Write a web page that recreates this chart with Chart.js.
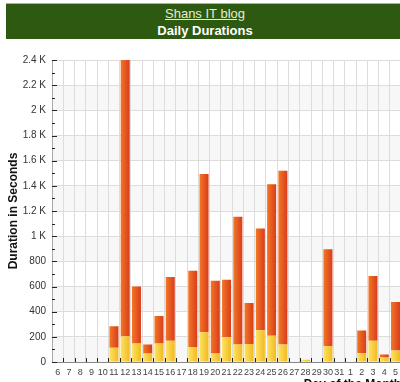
<!DOCTYPE html>
<html>
<head>
<meta charset="utf-8">
<script src="https://cdn.jsdelivr.net/npm/chart.js@4/dist/chart.umd.min.js"></script>
<style>
  html, body { margin: 0; padding: 0; background: #fff; overflow: hidden; width: 400px; height: 382px; }
  #head {
    position: absolute; left: 6px; top: 3px; width: 398px; height: 35px;
    background: #2d5a10; border-top: 1px solid #9cbf7c;
    font-family: "Liberation Sans", Arial, sans-serif; font-size: 13px; text-align: center; line-height: 17px;
  }
  #head .blog { color: #e4ecd6; text-decoration: underline; padding-top: 1px; }
  #head .name { color: #fff; font-weight: bold; }
  #wrap { position: absolute; left: 0; top: 40px; }
</style>
</head>
<body>
<div id="head"><div class="blog">Shans IT blog</div><div class="name">Daily Durations</div></div>
<div id="wrap"><canvas id="chart" width="403" height="362"></canvas></div>
<script>
const days = ["6", "7", "8", "9", "10", "11", "12", "13", "14", "15", "16", "17", "18", "19", "20",
  "21", "22", "23", "24", "25", "26", "27", "28", "29", "30", "31", "1", "2", "3", "4", "5"];

// lower (yellow) part of each bar, seconds
const yellowPart = [0, 0, 0, 0, 0, 114, 205, 147, 67, 147, 168, 0, 120, 237, 67,
  197, 139, 144, 253, 208, 139, 0, 18, 0, 125, 0, 0, 72, 168, 35, 91];

// upper (orange) part stacked on top, seconds
const orangePart = [0, 0, 0, 0, 0, 171, 2195, 453, 73, 218, 507, 0, 605, 1258, 578,
  456, 1016, 325, 807, 1205, 1381, 0, 0, 0, 771, 0, 0, 178, 515, 24, 386];

const yMax = 2400;
const yStep = 200;

const fontFamily = '"Liberation Sans", Arial, sans-serif';

function barFill(light, dark) {
  return (ctx) => {
    const chart = ctx.chart;
    const xs = chart.scales.x;
    if (!chart.chartArea || !xs) return dark;
    const cx = xs.getPixelForValue(ctx.dataIndex);
    const g = chart.ctx.createLinearGradient(cx - 5, 0, cx + 5, 0);
    g.addColorStop(0, light);
    g.addColorStop(1, dark);
    return g;
  };
}

// alternating grey bands behind the grid
const bands = {
  id: "bands",
  beforeDraw(chart) {
    const { ctx, chartArea, scales } = chart;
    ctx.save();
    ctx.fillStyle = "#f7f7f7";
    for (let v = 0; v < yMax; v += yStep * 2) {
      const y1 = scales.y.getPixelForValue(v);
      const y2 = scales.y.getPixelForValue(v + yStep);
      ctx.fillRect(chartArea.left, y2, chartArea.right - chartArea.left, y1 - y2);
    }
    ctx.restore();
  },
};

// small black ticks drawn inside the plot, like the original
const innerTicks = {
  id: "innerTicks",
  afterDatasetsDraw(chart) {
    const { ctx, chartArea, scales } = chart;
    ctx.save();
    ctx.strokeStyle = "#222";
    ctx.lineWidth = 1;
    ctx.beginPath();
    for (let v = 0; v <= yMax; v += yStep / 2) {
      const y = Math.round(scales.y.getPixelForValue(v)) + 0.5;
      const len = v % yStep === 0 ? 5 : 3;
      ctx.moveTo(chartArea.left, y);
      ctx.lineTo(chartArea.left + len, y);
    }
    for (let i = 1; i < days.length; i++) {
      const x = Math.round((scales.x.getPixelForValue(i - 1) + scales.x.getPixelForValue(i)) / 2) + 0.5;
      ctx.moveTo(x, chartArea.bottom);
      ctx.lineTo(x, chartArea.bottom - 4);
    }
    ctx.stroke();
    ctx.restore();
  },
};

new Chart(document.getElementById("chart"), {
  type: "bar",
  data: {
    labels: days,
    datasets: [
      {
        label: "lower",
        data: yellowPart,
        backgroundColor: barFill("#ffe466", "#f0b81c"),
        barPercentage: 0.8,
        categoryPercentage: 1,
      },
      {
        label: "upper",
        data: orangePart,
        backgroundColor: barFill("#f47a26", "#d8391a"),
        barPercentage: 0.8,
        categoryPercentage: 1,
      },
    ],
  },
  options: {
    responsive: false,
    animation: false,
    layout: { padding: { top: 20, left: 0, right: 0, bottom: 0 } },
    plugins: { legend: { display: false }, tooltip: { enabled: false } },
    scales: {
      x: {
        stacked: true,
        afterFit: (s) => { s.height = 40; },
        grid: { color: "#dcdcdc", offset: true, drawTicks: false },
        border: { color: "#888" },
        ticks: { color: "#444", padding: 5, autoSkip: false, maxRotation: 0, font: { family: fontFamily, size: 9 } },
        title: {
          display: true, text: "Day of the Month", align: "end", color: "#111",
          padding: { top: 0, bottom: 10 }, font: { family: fontFamily, size: 12, weight: "bold" },
        },
      },
      y: {
        stacked: true,
        min: 0,
        max: yMax,
        afterFit: (s) => { s.width = 52; },
        grid: { color: "#dcdcdc", drawTicks: false },
        border: { color: "#aaa" },
        ticks: {
          stepSize: yStep,
          color: "#333",
          padding: 6,
          font: { family: fontFamily, size: 10 },
          callback: (v) => (v >= 1000 ? v / 1000 + " K" : v),
        },
        title: {
          display: true, text: "Duration in Seconds", color: "#111",
          padding: { top: 6, bottom: 0 }, font: { family: fontFamily, size: 12, weight: "bold" },
        },
      },
    },
  },
  plugins: [bands, innerTicks],
});
</script>
</body>
</html>
